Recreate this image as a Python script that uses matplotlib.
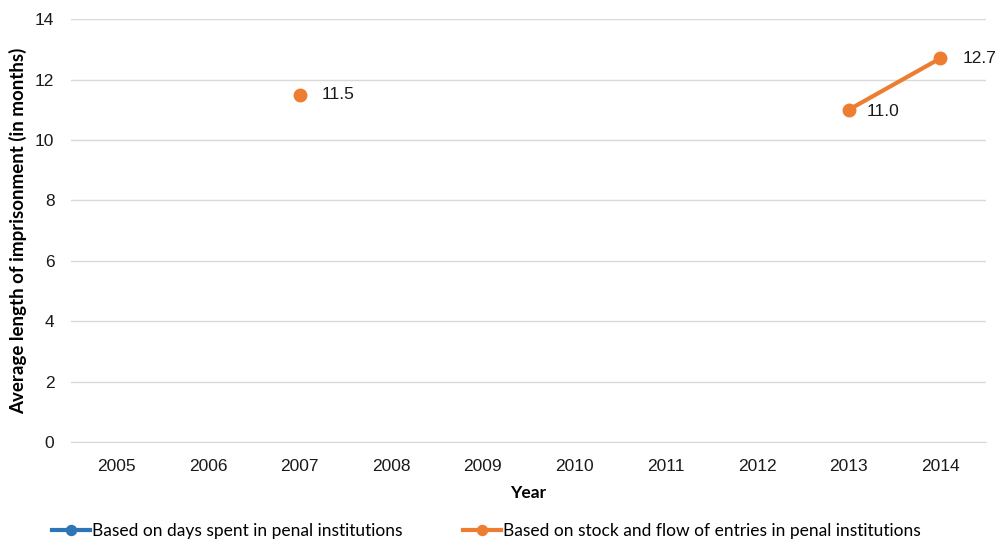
import numpy as np
import matplotlib
matplotlib.use("Agg")
import matplotlib.pyplot as plt

years = ['2005', '2006', '2007', '2008', '2009', '2010', '2011', '2012', '2013', '2014']
days_spent = [np.nan] * 10
stock_flow = [np.nan, np.nan, 11.5, np.nan, np.nan, np.nan, np.nan, np.nan, 11.0, 12.7]

blue = '#2e75b6'
orange = '#ed7d31'

plt.rcParams['font.family'] = ['Liberation Sans', 'DejaVu Sans']

fig = plt.figure(figsize=(10.01, 5.46), dpi=100)
ax = fig.add_axes([0.071, 0.1905, 0.914, 0.7745])

x = np.arange(len(years))
ax.plot(x, days_spent, color=blue, lw=3, marker='o', ms=9,
        label='Based on days spent in penal institutions')
ax.plot(x, stock_flow, color=orange, lw=3, marker='o', ms=9,
        label='Based on stock and flow of entries in penal institutions')

# data labels
for i, v in enumerate(stock_flow):
    if np.isnan(v):
        continue
    dy = -0.05 if i == 8 else 0
    dx = 0.19 if i == 8 else 0.24
    ax.text(i + dx, v + dy, f'{v:.1f}', fontsize=12.5, va='center', ha='left',
            color='#1a1a1a')

ax.set_xlim(-0.5, len(years) - 0.5)
ax.set_ylim(0, 14)
ax.set_yticks(range(0, 15, 2))
ax.set_xticks(x)
ax.set_xticklabels(years)
ax.tick_params(length=0, labelsize=12.5, colors='#1a1a1a')
ax.tick_params(axis='x', pad=12)
ax.tick_params(axis='y', pad=12)
ax.grid(axis='y', color='#d9d9d9', lw=1)
ax.set_axisbelow(True)
for s in ['top', 'right', 'left']:
    ax.spines[s].set_visible(False)
ax.spines['bottom'].set_color('#d9d9d9')

ax.set_ylabel('Average length of imprisonment (in months)', fontsize=13.5,
              fontweight='bold', family='Lato', labelpad=6)
ax.set_xlabel('Year', fontsize=12.5, fontweight='bold', family='Lato', labelpad=8)

ax.legend(loc='center', bbox_to_anchor=(0.454, -0.21), ncol=2, frameon=False,
          prop={'family': 'Lato', 'size': 12.5}, handlelength=2.2, handletextpad=0.1,
          columnspacing=3.5, markerscale=0.8)

fig.savefig('out.png', dpi=100)
